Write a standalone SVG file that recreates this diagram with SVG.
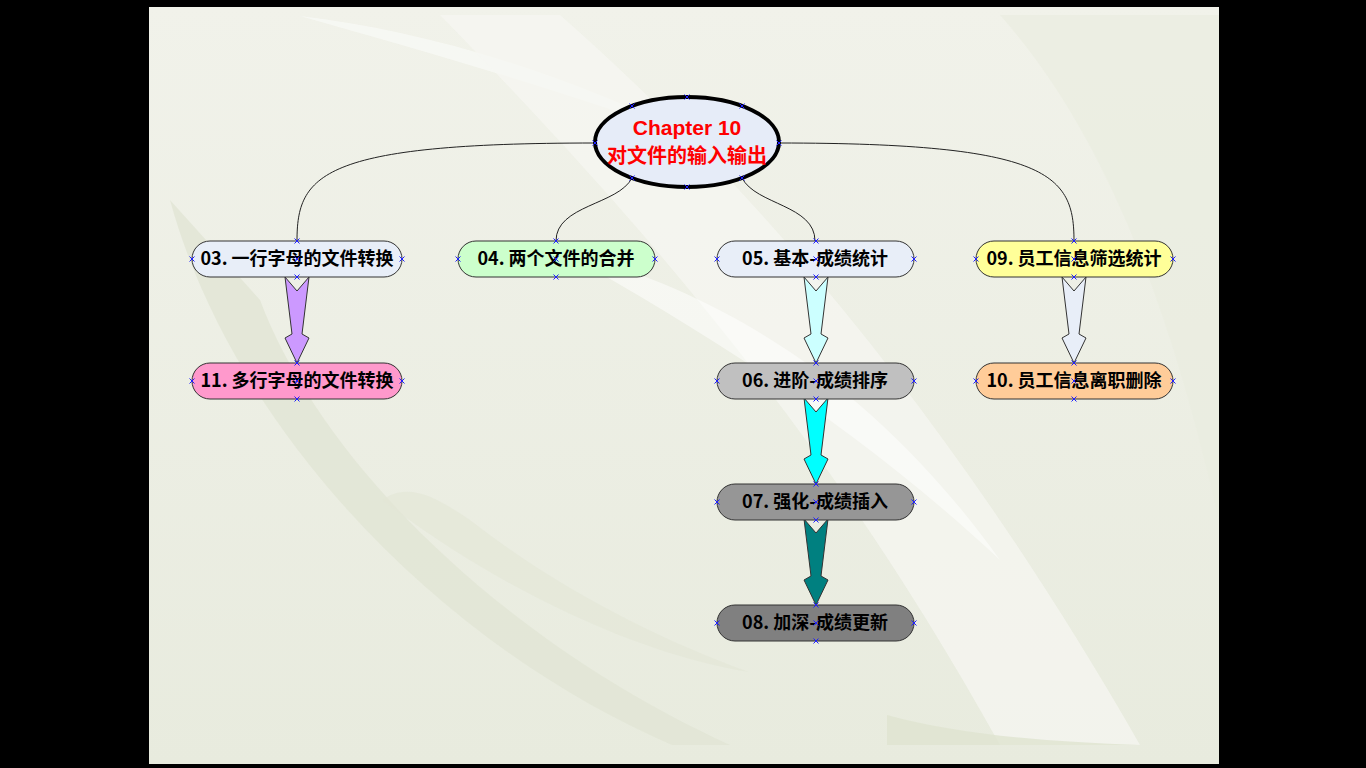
<svg xmlns="http://www.w3.org/2000/svg" xmlns:xlink="http://www.w3.org/1999/xlink" width="1366" height="768" viewBox="0 0 1366 768">
<style>
.node{stroke:#333;stroke-width:1}
.t{font-family:"Noto Sans CJK SC","Noto Sans",sans-serif;font-weight:bold;font-size:18px;fill:#000;text-anchor:middle}
.tr{font-family:"Noto Sans CJK SC","Noto Sans",sans-serif;font-weight:bold;font-size:20px;fill:#ff0000;text-anchor:middle}
.tl{font-family:"Liberation Sans",Arial,sans-serif;font-weight:bold;font-size:21px;fill:#ff0000;text-anchor:middle}
.c{fill:none;stroke:#222;stroke-width:1}
.fa{stroke:#333;stroke-width:1}
.xm{stroke:#2020ff;stroke-width:1}
</style>
<defs>
<g id="x"><path class="xm" d="M-2.5,-2.5L2.5,2.5M-2.5,2.5L2.5,-2.5"/></g>
<path id="fat" d="M-12,0 L0,14 L12,0 L5,57 L12,61 L0,86 L-12,61 L-5,57 Z"/>
<linearGradient id="bg" x1="0" y1="0" x2="0" y2="1">
<stop offset="0" stop-color="#f1f2ea"/>
<stop offset="1" stop-color="#e8ebde"/>
</linearGradient>
</defs>
<rect x="0" y="0" width="1366" height="768" fill="#000"/>
<g id="background">
<rect x="149" y="7" width="1070" height="757" fill="url(#bg)"/>
<path d="M300,16 C420,30 560,70 700,140 C560,90 420,50 300,16 Z" fill="#f8f9f5" opacity="0.8"/>
<path d="M440,15 C620,200 820,420 1000,745 L1140,745 C960,430 760,190 560,15 Z" fill="#f6f7f2" opacity="0.7"/>
<path d="M560,250 C700,330 850,420 1000,560 C900,420 760,300 560,250 Z" fill="#ffffff" opacity="0.5"/>
<path d="M170,200 C230,420 430,640 672,745 L730,745 C500,640 320,460 260,300 Z" fill="#e1e5d4" opacity="0.8"/>
<path d="M382,500 C500,590 640,655 749,672 C660,640 560,590 470,520 C440,500 410,480 382,500 Z" fill="#e3e6d6" opacity="0.6"/>
<path d="M1000,15 C1120,150 1180,350 1219,520 L1219,15 Z" fill="#e9ecdf" opacity="0.7"/>
<path d="M887,715 C960,735 1050,742 1140,745 L887,745 Z" fill="#dfe3d0" opacity="0.8"/>
</g>
<g id="connectors">
<path class="c" d="M595,143 C320,143 297,175 297,241"/>
<path class="c" d="M632,178 C618,205 556,205 556,241"/>
<path class="c" d="M742,178 C756,205 815,205 815,241"/>
<path class="c" d="M779,143 C1050,143 1074,175 1074,241"/>
<use xlink:href="#fat" class="fa" fill="#cc99ff" transform="translate(297,277)"/>
<use xlink:href="#fat" class="fa" fill="#ccffff" transform="translate(816,277)"/>
<use xlink:href="#fat" class="fa" fill="#00ffff" transform="translate(816,398)"/>
<use xlink:href="#fat" class="fa" fill="#008080" transform="translate(816,519)"/>
<use xlink:href="#fat" class="fa" fill="#e8eef8" transform="translate(1074,277)"/>
</g>
<g id="root">
<ellipse cx="687" cy="142" rx="92" ry="45" fill="#e6ecf8" stroke="#000" stroke-width="4"/>
<text class="tl" x="687" y="135">Chapter 10</text>
<text class="tr" x="687" y="163">对文件的输入输出</text>
<use xlink:href="#x" x="687" y="97"/><use xlink:href="#x" x="687" y="187"/>
<use xlink:href="#x" x="595" y="143"/><use xlink:href="#x" x="779" y="143"/>
<use xlink:href="#x" x="632" y="106"/><use xlink:href="#x" x="742" y="106"/>
<use xlink:href="#x" x="632" y="178"/><use xlink:href="#x" x="742" y="178"/>
</g>
<g id="n03">
<rect class="node" x="192" y="241" width="210" height="36" rx="18" fill="#e8eef8"/>
<text class="t" x="297" y="265">03. 一行字母的文件转换</text>
<use xlink:href="#x" x="297" y="241"/><use xlink:href="#x" x="297" y="277"/><use xlink:href="#x" x="192" y="259"/><use xlink:href="#x" x="402" y="259"/><use xlink:href="#x" x="297" y="259"/>
</g>
<g id="n04">
<rect class="node" x="458" y="241" width="197" height="36" rx="18" fill="#ccffcc"/>
<text class="t" x="556" y="265">04. 两个文件的合并</text>
<use xlink:href="#x" x="556" y="241"/><use xlink:href="#x" x="556" y="277"/><use xlink:href="#x" x="458" y="259"/><use xlink:href="#x" x="655" y="259"/><use xlink:href="#x" x="556" y="259"/>
</g>
<g id="n05">
<rect class="node" x="717" y="241" width="197" height="36" rx="18" fill="#e8eef8"/>
<text class="t" x="815" y="265">05. 基本-成绩统计</text>
<use xlink:href="#x" x="816" y="241"/><use xlink:href="#x" x="816" y="277"/><use xlink:href="#x" x="717" y="259"/><use xlink:href="#x" x="914" y="259"/><use xlink:href="#x" x="816" y="259"/>
</g>
<g id="n09">
<rect class="node" x="976" y="241" width="197" height="36" rx="18" fill="#ffff99"/>
<text class="t" x="1074" y="265">09. 员工信息筛选统计</text>
<use xlink:href="#x" x="1074" y="241"/><use xlink:href="#x" x="1074" y="277"/><use xlink:href="#x" x="976" y="259"/><use xlink:href="#x" x="1173" y="259"/><use xlink:href="#x" x="1074" y="259"/>
</g>
<g id="n11">
<rect class="node" x="192" y="363" width="210" height="36" rx="18" fill="#ff99cc"/>
<text class="t" x="297" y="387">11. 多行字母的文件转换</text>
<use xlink:href="#x" x="297" y="363"/><use xlink:href="#x" x="297" y="399"/><use xlink:href="#x" x="192" y="381"/><use xlink:href="#x" x="402" y="381"/><use xlink:href="#x" x="297" y="381"/>
</g>
<g id="n06">
<rect class="node" x="717" y="363" width="197" height="36" rx="18" fill="#c0c0c0"/>
<text class="t" x="815" y="387">06. 进阶-成绩排序</text>
<use xlink:href="#x" x="816" y="363"/><use xlink:href="#x" x="816" y="399"/><use xlink:href="#x" x="717" y="381"/><use xlink:href="#x" x="914" y="381"/><use xlink:href="#x" x="816" y="381"/>
</g>
<g id="n10">
<rect class="node" x="976" y="363" width="197" height="36" rx="18" fill="#ffcc99"/>
<text class="t" x="1074" y="387">10. 员工信息离职删除</text>
<use xlink:href="#x" x="1074" y="363"/><use xlink:href="#x" x="1074" y="399"/><use xlink:href="#x" x="976" y="381"/><use xlink:href="#x" x="1173" y="381"/><use xlink:href="#x" x="1074" y="381"/>
</g>
<g id="n07">
<rect class="node" x="717" y="484" width="197" height="36" rx="18" fill="#969696"/>
<text class="t" x="815" y="508">07. 强化-成绩插入</text>
<use xlink:href="#x" x="816" y="484"/><use xlink:href="#x" x="816" y="520"/><use xlink:href="#x" x="717" y="502"/><use xlink:href="#x" x="914" y="502"/><use xlink:href="#x" x="816" y="502"/>
</g>
<g id="n08">
<rect class="node" x="717" y="605" width="197" height="36" rx="18" fill="#808080"/>
<text class="t" x="815" y="629">08. 加深-成绩更新</text>
<use xlink:href="#x" x="816" y="605"/><use xlink:href="#x" x="816" y="641"/><use xlink:href="#x" x="717" y="623"/><use xlink:href="#x" x="914" y="623"/><use xlink:href="#x" x="816" y="623"/>
</g>
</svg>
